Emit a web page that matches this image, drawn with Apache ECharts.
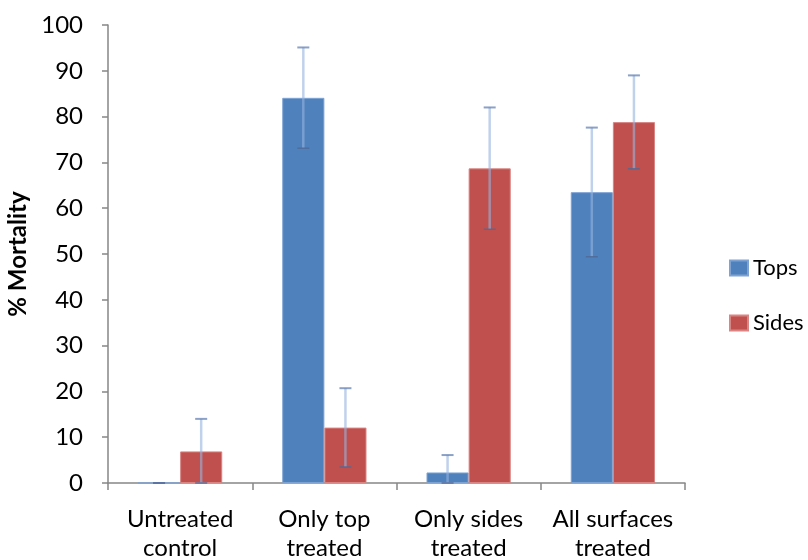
<!DOCTYPE html>
<html>
<head>
<meta charset="utf-8">
<script src="https://cdn.jsdelivr.net/npm/echarts@6/dist/echarts.min.js"></script>
<style>html,body{margin:0;padding:0;background:#fff}#c{width:808px;height:560px}</style>
</head>
<body>
<div id="c"></div>
<script>
var categories = ['Untreated\ncontrol', 'Only top\ntreated', 'Only sides\ntreated', 'All surfaces\ntreated'];
var seriesNames = ['Tops', 'Sides'];
var topsValues = [0, 84.1, 2.3, 63.5];
var sidesValues = [6.9, 12.1, 68.7, 78.8];
var topsErr = [0, 11.0, 3.8, 14.1];
var sidesErr = [7.1, 8.6, 13.3, 10.2];
var yTicks = [0, 10, 20, 30, 40, 50, 60, 70, 80, 90, 100];

var FONT = 'Lato';
var catGap = 0.416;

function errSeries(values, errs, sideIdx, name) {
  var data = values.map(function (v, i) { return [i, v, errs[i]]; });
  return {
    type: 'custom',
    name: name + ' err',
    z: 10,
    silent: true,
    data: data,
    renderItem: function (params, api) {
      var i = api.value(0), v = api.value(1), e = api.value(2);
      var catW = api.size([1, 0])[0];
      var barW = catW * (1 - catGap) / 2;
      var off = (sideIdx === 0 ? -0.5 : 0.5) * barW;
      var top = api.coord([i, v + e]);
      var bot = api.coord([i, Math.max(0, v - e)]);
      var x = top[0] + off;
      var hw = 6;
      return {
        type: 'group',
        children: [
          { type: 'line', shape: { x1: x, y1: top[1], x2: x, y2: bot[1] },
            style: { stroke: 'rgba(150,180,222,0.6)', lineWidth: 2.5 } },
          { type: 'line', shape: { x1: x - hw, y1: top[1], x2: x + hw, y2: top[1] },
            style: { stroke: 'rgba(100,130,180,0.75)', lineWidth: 2 } },
          { type: 'line', shape: { x1: x - hw, y1: bot[1], x2: x + hw, y2: bot[1] },
            style: { stroke: 'rgba(80,105,150,0.85)', lineWidth: 1.5 } }
        ]
      };
    }
  };
}

var chart = echarts.init(document.getElementById('c'), null, { renderer: 'canvas' });
chart.setOption({
  animation: false,
  backgroundColor: '#ffffff',
  textStyle: { fontFamily: FONT },
  grid: { left: 108, right: 123, top: 25, bottom: 77, containLabel: false, outerBoundsMode: 'none' },
  legend: {
    data: seriesNames,
    orient: 'vertical',
    left: 724,
    top: 251,
    itemWidth: 18,
    itemHeight: 15,
    itemGap: 31,
    icon: 'rect',
    textStyle: { fontFamily: FONT, fontSize: 22, lineHeight: 24, color: '#000' }
  },
  xAxis: {
    type: 'category',
    data: categories,
    axisLine: { lineStyle: { color: '#868686', width: 1.5 } },
    axisTick: { show: true, length: 7, alignWithLabel: false, lineStyle: { color: '#868686', width: 1.5 } },
    axisLabel: { fontFamily: FONT, fontSize: 24, color: '#000', margin: 22, lineHeight: 29, interval: 0 }
  },
  yAxis: {
    type: 'value',
    min: 0,
    max: 100,
    interval: 10,
    name: '% Mortality',
    nameLocation: 'middle',
    nameGap: 75,
    nameTextStyle: { fontFamily: FONT, fontSize: 24, fontWeight: 'bold', color: '#000' },
    axisLine: { show: true, lineStyle: { color: '#868686', width: 1.5 } },
    axisTick: { show: true, length: 6, lineStyle: { color: '#868686', width: 1.5 } },
    splitLine: { show: false },
    axisLabel: {
      fontFamily: FONT, fontSize: 24, color: '#000', margin: 25,
      formatter: function (v) { return yTicks.indexOf(v) >= 0 ? String(v) : ''; }
    }
  },
  series: [
    { name: seriesNames[0], type: 'bar', data: topsValues, barGap: '0%', barCategoryGap: (catGap * 100) + '%',
      itemStyle: { color: '#4F81BD', borderColor: '#7ea3d3', borderWidth: 1 } },
    { name: seriesNames[1], type: 'bar', data: sidesValues, barGap: '0%', barCategoryGap: (catGap * 100) + '%',
      itemStyle: { color: '#C0504D', borderColor: '#d88583', borderWidth: 1 } },
    errSeries(topsValues, topsErr, 0, seriesNames[0]),
    errSeries(sidesValues, sidesErr, 1, seriesNames[1])
  ]
});
</script>
</body>
</html>
